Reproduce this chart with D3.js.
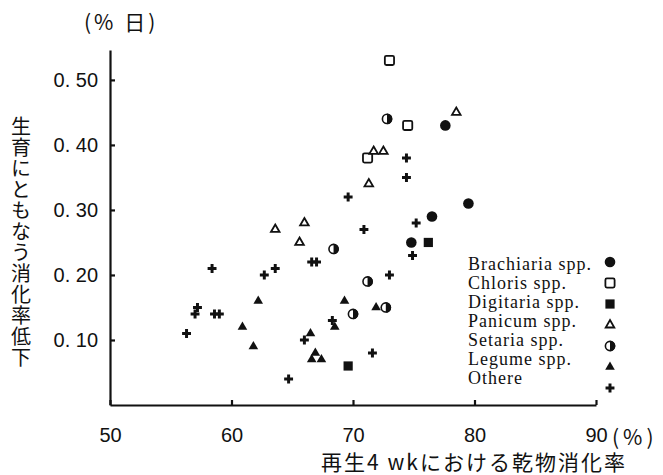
<!DOCTYPE html>
<html>
<head>
<meta charset="utf-8" />
<title>乾物消化率と消化率低下</title>
<script src="https://d3js.org/d3.v7.min.js"></script>
<style>
  body { margin: 0; background-color: #ffffff; }
  .tick text { font-family: "Liberation Sans", sans-serif; font-size: 20px; fill: #111; }
  .jp { font-family: "Noto Sans CJK JP", sans-serif; fill: #111; }
  .legend text { font-family: "Liberation Serif", serif; font-size: 18px; letter-spacing: 1px; fill: #111; }
</style>
</head>
<body>
<svg id="chart">
  <g id="x"></g>
  <g id="y"></g>
  <g id="shapes"></g>
  <g id="legend" class="legend"></g>
</svg>
<script>
var width = 663, height = 475;

// series values (x = 乾物消化率 %, y = 消化率低下 %/日)
var brachiariaX = [77.6, 79.5, 76.5, 74.8];
var brachiariaY = [0.43, 0.31, 0.29, 0.25];
var chlorisX = [73.0, 74.5, 71.2];
var chlorisY = [0.53, 0.43, 0.38];
var digitariaX = [76.2, 69.6];
var digitariaY = [0.25, 0.06];
var panicumX = [78.5, 71.7, 72.5, 71.3, 63.6, 66.0, 65.6];
var panicumY = [0.45, 0.39, 0.39, 0.34, 0.27, 0.28, 0.25];
var setariaX = [72.8, 68.4, 71.2, 72.7, 70.0];
var setariaY = [0.44, 0.24, 0.19, 0.15, 0.14];
var legumeX = [69.3, 71.9, 68.5, 60.9, 61.8, 62.2, 66.5, 66.9, 66.6, 67.4];
var legumeY = [0.16, 0.15, 0.12, 0.12, 0.09, 0.16, 0.11, 0.08, 0.07, 0.07];
var othereX = [74.4, 74.4, 69.6, 75.2, 70.9, 74.9, 73.0, 71.6, 68.3, 58.4, 62.7, 63.6,
               66.6, 67.0, 57.2, 57.0, 58.6, 59.0, 56.3, 66.0, 64.7];
var othereY = [0.38, 0.35, 0.32, 0.28, 0.27, 0.23, 0.20, 0.08, 0.13, 0.21, 0.20, 0.21,
               0.22, 0.22, 0.15, 0.14, 0.14, 0.14, 0.11, 0.10, 0.04];

var seriesNames = ["Brachiaria spp.", "Chloris spp.", "Digitaria spp.", "Panicum spp.",
                   "Setaria spp.", "Legume spp.", "Othere"];
var xTicks = [50, 60, 70, 80, 90];
var yTicks = [0.10, 0.20, 0.30, 0.40, 0.50];

var series = [
  { name: seriesNames[0], kind: "dot",      xs: brachiariaX, ys: brachiariaY },
  { name: seriesNames[1], kind: "square",   xs: chlorisX,    ys: chlorisY },
  { name: seriesNames[2], kind: "fsquare",  xs: digitariaX,  ys: digitariaY },
  { name: seriesNames[3], kind: "triangle", xs: panicumX,    ys: panicumY },
  { name: seriesNames[4], kind: "half",     xs: setariaX,    ys: setariaY },
  { name: seriesNames[5], kind: "ftri",     xs: legumeX,     ys: legumeY },
  { name: seriesNames[6], kind: "plus",     xs: othereX,     ys: othereY }
];

var svg = d3.select("#chart").attr("width", width).attr("height", height);

var x = d3.scaleLinear().domain([50, 90]).range([110, 596]);
var y = d3.scaleLinear().domain([0, 0.546]).range([405, 50]);

// axes, ticks pointing into the plot
var xAxis = d3.axisBottom(x).tickValues(xTicks).tickSize(-5).tickSizeOuter(0)
  .tickPadding(23).tickFormat(d3.format("d"));
svg.select("#x").attr("transform", "translate(0," + y(0) + ")").call(xAxis);

var yAxis = d3.axisLeft(y).tickValues(yTicks).tickSize(-5).tickSizeOuter(0)
  .tickPadding(12).tickFormat(function(d) { return d3.format(".2f")(d).replace(".", ". "); });
svg.select("#y").attr("transform", "translate(" + x(50) + ",0)").call(yAxis);

svg.selectAll("#x .domain, #y .domain").attr("stroke", "#111").attr("stroke-width", 2.2);
svg.selectAll("#x .tick line, #y .tick line").attr("stroke", "#111").attr("stroke-width", 2.2);

// units and titles
svg.append("text").attr("class", "jp").attr("x", 612).attr("y", y(0) + 40)
  .attr("font-size", 21).attr("letter-spacing", 4).text("(%)");
svg.append("text").attr("class", "jp").attr("x", 84).attr("y", 30)
  .attr("font-size", 21).attr("letter-spacing", 3).text("(% 日)");
svg.append("text").attr("class", "jp").attr("x", 474).attr("y", 470)
  .attr("text-anchor", "middle").attr("font-size", 21).attr("letter-spacing", 2)
  .text("再生4 wkにおける乾物消化率");

svg.append("text").attr("class", "jp").attr("font-size", 20)
  .attr("writing-mode", "vertical-rl").attr("letter-spacing", 1)
  .attr("x", 21).attr("y", 116)
  .text("生育にともなう消化率低下");

// marker drawing
function drawMarker(g, kind) {
  if (kind === "dot") {
    g.append("circle").attr("r", 5.3).attr("fill", "#111");
  } else if (kind === "square") {
    g.append("rect").attr("x", -4.6).attr("y", -4.6).attr("width", 9.2).attr("height", 9.2)
      .attr("rx", 1.5).attr("fill", "#fff").attr("stroke", "#111").attr("stroke-width", 1.8);
  } else if (kind === "fsquare") {
    g.append("rect").attr("x", -4.6).attr("y", -4.6).attr("width", 9.2).attr("height", 9.2)
      .attr("fill", "#111");
  } else if (kind === "triangle") {
    g.append("path").attr("d", d3.symbol(d3.symbolTriangle, 32)())
      .attr("fill", "#fff").attr("stroke", "#111").attr("stroke-width", 1.8);
  } else if (kind === "ftri") {
    g.append("path").attr("d", d3.symbol(d3.symbolTriangle, 40)()).attr("fill", "#111");
  } else if (kind === "half") {
    g.append("circle").attr("r", 4.6).attr("fill", "#fff").attr("stroke", "#111").attr("stroke-width", 1.6);
    g.append("path").attr("d", d3.arc()({ innerRadius: 0, outerRadius: 5.3, startAngle: 0, endAngle: Math.PI }))
      .attr("fill", "#111");
  } else {
    g.append("path").attr("d", d3.symbol(d3.symbolCross, 44)()).attr("fill", "#111");
  }
}

var shapes = svg.select("#shapes");
series.forEach(function(s) {
  var pts = s.xs.map(function(v, i) { return [v, s.ys[i]]; });
  shapes.selectAll(null).data(pts).enter().append("g")
    .attr("transform", function(d) { return "translate(" + x(d[0]) + "," + y(d[1]) + ")"; })
    .each(function() { drawMarker(d3.select(this), s.kind); });
});

// legend
var legend = svg.select("#legend");
series.forEach(function(s, i) {
  legend.append("text").attr("x", 468).attr("y", 270 + i * 19).text(s.name);
  var g = legend.append("g").attr("transform", "translate(610," + (262 + i * 21) + ")");
  drawMarker(g, s.kind);
});
</script>
</body>
</html>
